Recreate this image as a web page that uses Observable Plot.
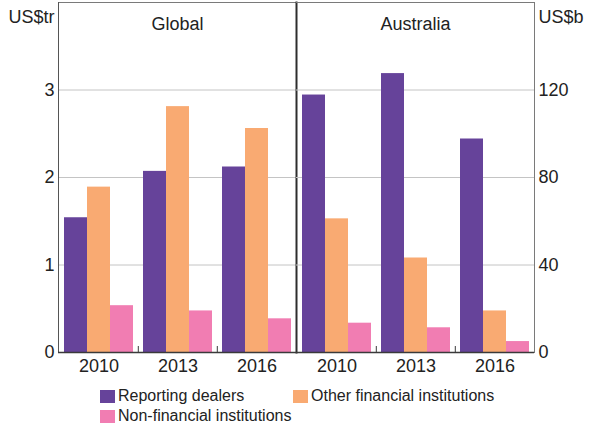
<!DOCTYPE html>
<html>
<head>
<meta charset="utf-8">
<script src="https://cdn.jsdelivr.net/npm/d3@7"></script>
<script src="https://cdn.jsdelivr.net/npm/@observablehq/plot@0.6"></script>
<style>
  html, body { margin: 0; padding: 0; background: #fff; }
  body { width: 593px; height: 425px; overflow: hidden; font-family: "Liberation Sans", Arial, sans-serif; color: #222; }
  #charts { display: flex; flex-direction: row; }
  #charts svg { overflow: visible; }
  #legend { position: relative; height: 50px; font-size: 16px; }
  .item { position: absolute; display: flex; align-items: center; height: 20px; line-height: 20px; white-space: nowrap; }
  .sw { width: 15px; height: 13px; margin-right: 3px; display: inline-block; }
</style>
</head>
<body>
<div id="charts"></div>
<div id="legend"></div>
<script>
// ---- data ----
const years = ["2010", "2013", "2016"];
const series = ["Reporting dealers", "Other financial institutions", "Non-financial institutions"];
const colors = ["#66439a", "#f9aa72", "#f17db2"];

const panels = ["Global", "Australia"];
const units = ["US$tr", "US$b"];

// Global, US$ trillion
const globalDealers = [1.54, 2.07, 2.12];
const globalOtherFin = [1.89, 2.81, 2.56];
const globalNonFin = [0.535, 0.475, 0.385];

// Australia, US$ billion
const ausDealers = [117.7, 127.5, 97.6];
const ausOtherFin = [61.1, 43.2, 19.0];
const ausNonFin = [13.4, 11.3, 5.0];

const globalTicks = [0, 1, 2, 3];
const ausTicks = [0, 40, 80, 120];
const globalMax = 4;
const ausMax = 160;

function rows(a, b, c) {
  const out = [];
  [a, b, c].forEach((arr, i) => arr.forEach((v, j) => out.push({year: years[j], series: series[i], value: v})));
  return out;
}
const globalRows = rows(globalDealers, globalOtherFin, globalNonFin);
const ausRows = rows(ausDealers, ausOtherFin, ausNonFin);

const H = 375, MT = 2, MB = 23;
const BW = 23; // bar width within group
const FONT = "Liberation Sans, Arial, sans-serif";
const FS = 18;

function barMarks(data) {
  return series.map((s, i) => Plot.barY(data.filter(d => d.series === s), {
    x: "year", y: "value", fill: colors[i],
    insetLeft: i * BW, insetRight: (2 - i) * BW
  }));
}

function panel({data, ticks, max, title, unit, side}) {
  const left = side === "left";
  return Plot.plot({
    width: left ? 296 : 297,
    height: H,
    marginLeft: left ? 58 : 0,
    marginRight: left ? 0 : 59,
    marginTop: MT,
    marginBottom: MB,
    style: {fontFamily: FONT, fontSize: FS + "px", color: "#222", background: "transparent", overflow: "visible"},
    x: {domain: years, paddingInner: 0.13, paddingOuter: 0.065},
    y: {domain: [0, max]},
    marks: [
      Plot.gridY(ticks.filter(t => t > 0), {stroke: "#c4c4c4", strokeOpacity: 1}),
      ...barMarks(data),
      Plot.frame({anchor: "top", stroke: "#7a7a7a", strokeWidth: 1}),
      left
        ? Plot.frame({anchor: "left", stroke: "#555", strokeWidth: 1})
        : Plot.frame({anchor: "right", stroke: "#7a7a7a", strokeWidth: 1}),
      left ? Plot.frame({anchor: "right", stroke: "#2e2e2e", strokeWidth: 2}) : null,
      Plot.ruleY([0], {stroke: "#3a3a3a", strokeWidth: 1.3}),
      Plot.ruleX(years.slice(1), {x: d => d, stroke: "#3a3a3a", insetTop: 344, dx: -39.7}),
      Plot.axisX({tickSize: 0, tickPadding: 7, label: null, fontSize: FS}),
      Plot.axisY(ticks, {anchor: side, tickSize: 0, tickPadding: 4, label: null, fontSize: FS, tickFormat: d => String(d)}),
      Plot.text([title], {frameAnchor: "top", dy: 14.5, fontSize: FS, fill: "#222"}),
      Plot.text([unit], {frameAnchor: left ? "top-left" : "top-right", textAnchor: left ? "end" : "start", dx: left ? -4 : 4, dy: 8, fontSize: FS, fill: "#222"})
    ]
  });
}

const charts = document.getElementById("charts");
charts.append(panel({data: globalRows, ticks: globalTicks, max: globalMax, title: panels[0], unit: units[0], side: "left"}));
charts.append(panel({data: ausRows, ticks: ausTicks, max: ausMax, title: panels[1], unit: units[1], side: "right"}));

// legend
const legend = document.getElementById("legend");
const pos = [[100, 11], [293, 11], [100, 31]];
series.forEach((s, i) => {
  const it = document.createElement("div");
  it.className = "item";
  it.style.left = pos[i][0] + "px";
  it.style.top = pos[i][1] + "px";
  const sw = document.createElement("span");
  sw.className = "sw";
  sw.style.background = colors[i];
  const tx = document.createElement("span");
  tx.textContent = s;
  it.append(sw, tx);
  legend.append(it);
});
</script>
</body>
</html>
